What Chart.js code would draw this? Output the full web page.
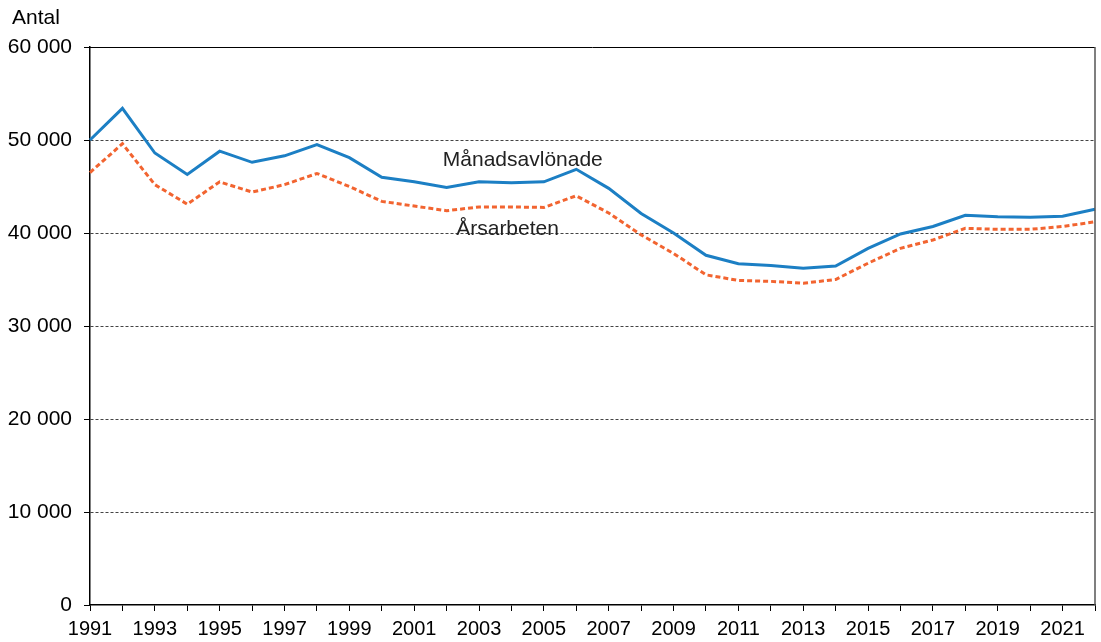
<!DOCTYPE html>
<html>
<head>
<meta charset="utf-8">
<script src="https://cdn.jsdelivr.net/npm/chart.js@4"></script>
<style>
  body { margin: 0; background: #fff; }
</style>
</head>
<body>
<canvas id="chart" width="1101" height="642"></canvas>
<script>
const years = [];
for (let y = 1991; y <= 2022; y++) years.push(String(y));

const manadsavlonade = [50000, 53400, 48600, 46300, 48800, 47600, 48300, 49500, 48100, 46000,
  45500, 44900, 45500, 45400, 45500, 46850, 44800, 42100, 40000, 37600,
  36700, 36500, 36200, 36450, 38350, 39900, 40700, 41900, 41750, 41700, 41800, 42550];
const arsarbeten = [46500, 49600, 45200, 43100, 45500, 44400, 45200, 46400, 45000, 43400,
  42900, 42400, 42800, 42800, 42750, 44000, 42150, 39800, 37800, 35500,
  34900, 34800, 34600, 35000, 36750, 38350, 39250, 40500, 40400, 40400, 40700, 41200];
const yTicks = [0, 10000, 20000, 30000, 40000, 50000, 60000];

// series names written next to the lines: [text, x index, y value]
const seriesLabels = [
  ['Månadsavlönade', 13.35, 47200],
  ['Årsarbeten', 12.88, 39800]
];

const FONT = '"Liberation Sans", Arial, sans-serif';
const fmt = v => String(v).replace(/\B(?=(\d{3})+(?!\d))/g, ' ');

const decorations = {
  id: 'decorations',
  afterDatasetsDraw(chart) {
    const { ctx, chartArea: a, scales } = chart;
    ctx.save();
    // frame on top and right
    ctx.strokeStyle = '#000';
    ctx.lineWidth = 1;
    ctx.beginPath();
    ctx.moveTo(a.left, a.top + 0.5);
    ctx.lineTo(a.right, a.top + 0.5);
    ctx.stroke();
    ctx.strokeStyle = '#555';
    ctx.lineWidth = 1.5;
    ctx.beginPath();
    ctx.moveTo(a.right, a.top);
    ctx.lineTo(a.right, a.bottom);
    ctx.stroke();

    // line names
    ctx.fillStyle = '#222';
    ctx.font = '21px ' + FONT;
    ctx.textAlign = 'center';
    ctx.textBaseline = 'alphabetic';
    seriesLabels.forEach(([t, xi, yv]) => {
      ctx.fillText(t, scales.x.getPixelForValue(xi), scales.y.getPixelForValue(yv));
    });

    // axis title
    ctx.fillStyle = '#000';
    ctx.font = '21px ' + FONT;
    ctx.textAlign = 'left';
    ctx.fillText('Antal', 12, 24);
    ctx.restore();
  }
};

new Chart(document.getElementById('chart'), {
  type: 'line',
  data: {
    labels: years,
    datasets: [
      {
        label: 'Månadsavlönade',
        data: manadsavlonade,
        borderColor: '#1c7fc4',
        borderWidth: 3,
        pointRadius: 0,
        tension: 0
      },
      {
        label: 'Årsarbeten',
        data: arsarbeten,
        borderColor: '#f26430',
        borderWidth: 3,
        borderDash: [5, 3],
        pointRadius: 0,
        tension: 0
      }
    ]
  },
  options: {
    responsive: false,
    animation: false,
    layout: { padding: { top: 47, right: 5, left: 0, bottom: 0 } },
    plugins: {
      legend: { display: false },
      tooltip: { enabled: false }
    },
    scales: {
      x: {
        offset: false,
        afterFit: s => { s.height = 37; },
        grid: {
          drawOnChartArea: false,
          drawTicks: true,
          tickLength: 6,
          color: '#000',
          lineWidth: 1
        },
        border: { color: '#000', width: 1.5 },
        ticks: {
          autoSkip: false,
          maxRotation: 0,
          padding: 6,
          color: '#000',
          font: { family: FONT, size: 20 },
          callback: (v, i) => (i % 2 === 0 ? years[i] : '')
        }
      },
      y: {
        min: 0,
        max: 60000,
        afterFit: s => { s.width = 90; },
        afterBuildTicks: s => { s.ticks = yTicks.map(v => ({ value: v })); },
        grid: {
          color: c => (c.tick && (c.tick.value === 0 || c.tick.value === 60000) ? 'rgba(0,0,0,0)' : '#444'),
          tickColor: '#000',
          lineWidth: 1,
          drawTicks: true,
          tickLength: 6,
          tickBorderDash: []
        },
        border: { color: '#000', width: 1.5, dash: [3, 2] },
        ticks: {
          padding: 12,
          color: '#000',
          font: { family: FONT, size: 21 },
          callback: v => fmt(v)
        }
      }
    }
  },
  plugins: [decorations]
});
</script>
</body>
</html>
